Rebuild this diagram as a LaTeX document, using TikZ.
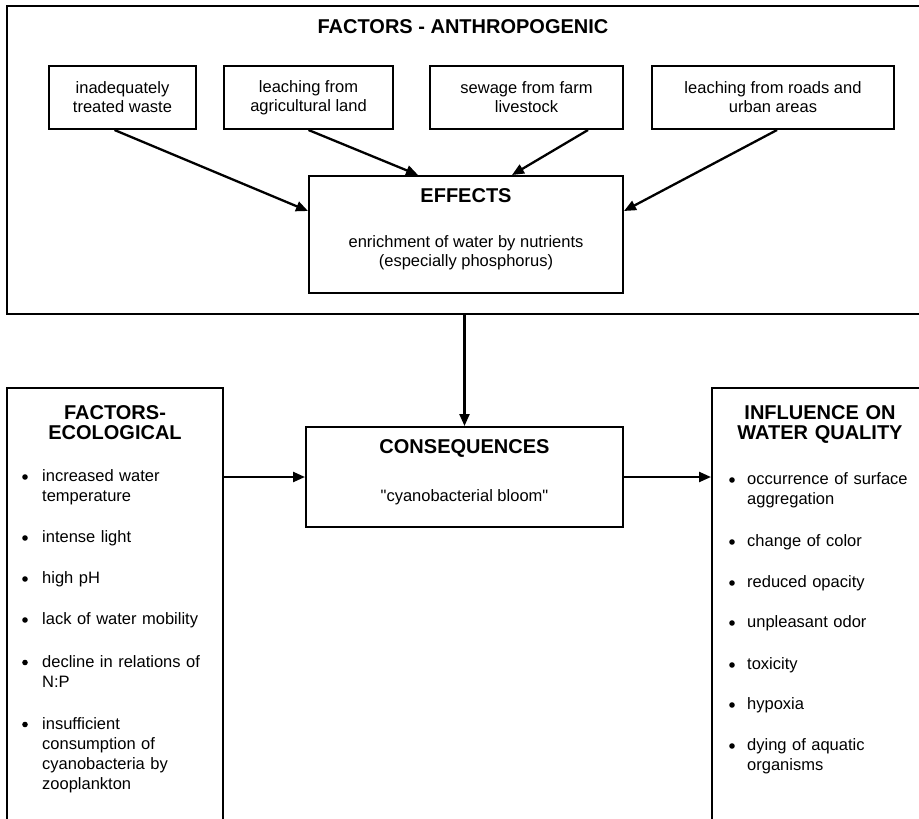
\documentclass[tikz,border=0pt]{standalone}
\usepackage{fontspec}
\setmainfont{Liberation Sans}[Ligatures=TeXOff]
\usetikzlibrary{arrows.meta,calc}
\newcommand\txtfont{\fontsize{16.5}{19}\selectfont}
\newcommand\lstfont{\fontsize{16.5}{20}\selectfont}
\newcommand\hdfont{\fontsize{20}{20}\selectfont\bfseries}
\begin{document}
\begin{tikzpicture}[x=1pt,y=-1pt,
  frame/.style={draw, line width=2pt, inner sep=0pt},
  box/.style={draw, line width=2pt, inner sep=2pt, align=center, font=\txtfont, minimum height=63pt},
  head/.style={inner sep=0pt, font=\hdfont},
  body/.style={inner sep=0pt, align=center, font=\txtfont},
  colhead/.style={inner sep=0pt, font=\hdfont, align=center, text width=210pt, anchor=base},
  entry/.style={inner sep=0pt, font=\lstfont, align=left, text width=180pt, anchor=base west},
  arr/.style={line width=2.3pt, -{Triangle[length=12pt,width=10pt]}}]
\useasboundingbox (0,0) rectangle (919,819);
\clip (0,0) rectangle (919,819);

% upper panel: anthropogenic factors
\node[frame, minimum width=918pt, minimum height=308pt] (outer) at (466,160) {};
\node[head] (title) at (463,27) {FACTORS - ANTHROPOGENIC};

\node[box, minimum width=147pt] (b1) at (122.5,97.5) {inadequately\\treated waste};
\node[box, minimum width=169pt] (b2) at (308.5,97.5) {leaching from\\agricultural land};
\node[box, minimum width=193pt] (b3) at (526.5,97.5) {sewage from farm\\livestock};
\node[box, minimum width=242pt] (b4) at (773,97.5) {leaching from roads and\\urban areas};

\node[frame, minimum width=314pt, minimum height=117pt] (eff) at (466,234.5) {};
\node[head] (effhead) at (466,196) {EFFECTS};
\node[body] (effbody) at (466,252.5) {enrichment of water by nutrients\\(especially phosphorus)};

\draw[arr] ($(b1.south)+(-8,0)$) -- ($(eff.west)+(0,-23.5)$);
\draw[arr] (b2.south) -- ($(eff.north)+(-48,0)$);
\draw[arr] ($(b3.south)+(61.5,0)$) -- ($(eff.north)+(46,0)$);
\draw[arr] ($(b4.south)+(4,0)$) -- ($(eff.east)+(0,-23.5)$);

% consequences
\node[frame, minimum width=317pt, minimum height=100pt] (cons) at (464.5,477) {};
\node[head] (conshead) at (464.5,448) {CONSEQUENCES};
\node[body] (consbody) at (464.5,497) {"cyanobacterial bloom"};
\draw[arr] (outer.south -| cons.north) -- (cons.north);

% side panels, running past the lower edge
\node[frame, minimum width=216pt, minimum height=452pt] (ecol) at (115,614) {};
\node[frame, minimum width=216pt, minimum height=452pt] (infl) at (820,614) {};
\node[colhead] (ecolhead) at (115,419) {FACTORS-\\ECOLOGICAL};
\node[colhead] (inflhead) at (820,419) {INFLUENCE ON\\WATER QUALITY};

\draw[arr] (ecol.east |- cons.west) -- (cons.west);
\draw[arr] (cons.east) -- (infl.west |- cons.east);

% ecological factors
\node[entry] (l1) at (42,481.5) {increased water\\temperature};
\node[entry] (l2) at (42,542.5) {intense light};
\node[entry] (l3) at (42,583.5) {high pH};
\node[entry] (l4) at (42,624.5) {lack of water mobility};
\node[entry] (l5) at (42,667) {decline in relations of\\N:P};
\node[entry] (l6) at (42,729) {insufficient\\consumption of\\cyanobacteria by\\zooplankton};
\foreach \n in {l1,l2,l3,l4,l5,l6}
  \fill ($(\n.base west)+(-17,-4.5)$) circle (2.8pt);

% effects on water quality
\node[entry] (r1) at (747,484.5) {occurrence of surface\\aggregation};
\node[entry] (r2) at (747,546.5) {change of color};
\node[entry] (r3) at (747,587.5) {reduced opacity};
\node[entry] (r4) at (747,627.5) {unpleasant odor};
\node[entry] (r5) at (747,669.5) {toxicity};
\node[entry] (r6) at (747,709.5) {hypoxia};
\node[entry] (r7) at (747,750.5) {dying of aquatic\\organisms};
\foreach \n in {r1,r2,r3,r4,r5,r6,r7}
  \fill ($(\n.base west)+(-15,-4.5)$) circle (2.8pt);
\end{tikzpicture}
\end{document}
